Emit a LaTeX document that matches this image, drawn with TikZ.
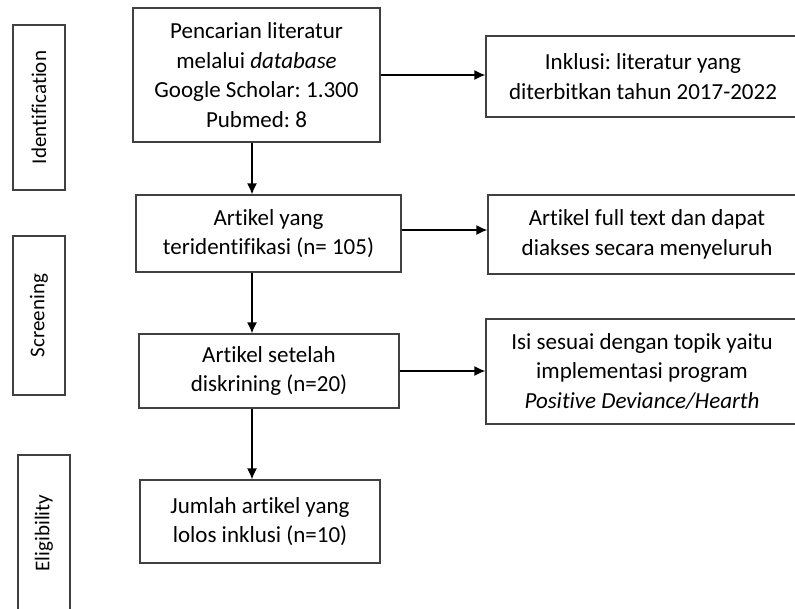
\documentclass[tikz,border=0pt]{standalone}
\usepackage{fontspec}
\setmainfont{Carlito}[Ligatures=NoCommon]
\usepackage{xcolor}
\usetikzlibrary{arrows.meta}
\frenchspacing

\begin{document}
\begin{tikzpicture}[x=1pt,y=-1pt]
			\tikzstyle{stage} = [draw=black!75, line width=1.1pt, inner sep=0pt, rotate=90, minimum height=52pt, font=\fontsize{21}{26}\selectfont]
			\tikzstyle{flow} = [draw=black!75, line width=1.1pt, inner sep=0pt, align=center, font=\fontsize{23}{29.5}\selectfont]
			\tikzset{edge/.style = {-{Latex[length=11pt,width=10pt]}, line width=1.6pt}}
			
			\useasboundingbox (0,0) rectangle (795,608);
			\clip (0,0) rectangle (795,608);
			\coordinate (col) at (252,0);
			
			\node[stage, minimum width=165pt](identification) at (39,107.5) {Identification};
			\node[stage, minimum width=159pt](screening) at (39,315.5) {Screening};
			\node[stage, minimum width=156pt](eligibility) at (44,533) {Eligibility};
			
			\node[flow, minimum width=247pt, minimum height=134pt](search) at (256.5,75) {Pencarian literatur\\melalui \textit{database}\\Google Scholar: 1.300\\Pubmed: 8};
			\node[flow, minimum width=265pt, minimum height=77pt](found) at (268.5,233.5) {Artikel yang\\teridentifikasi (n= 105)};
			\node[flow, minimum width=260pt, minimum height=74pt](screened) at (269,371) {Artikel setelah\\diskrining (n=20)};
			\node[flow, minimum width=240pt, minimum height=83pt](included) at (260,521.5) {Jumlah artikel yang\\lolos inklusi (n=10)};
			
			\node[flow, minimum width=314pt, minimum height=81pt](inclusion) at (643,76.5) {Inklusi: literatur yang\\diterbitkan tahun 2017-2022};
			\node[flow, minimum width=318pt, minimum height=79pt](fulltext) at (647,234.5) {Artikel full text dan dapat\\diakses secara menyeluruh};
			\node[flow, minimum width=312pt, minimum height=105pt](topic) at (642,371.5) {Isi sesuai dengan topik yaitu\\implementasi program\\\textit{Positive Deviance/Hearth}};
			
			\draw[edge](search.south -| col) to (found.north -| col);
			\draw[edge](found.south -| col) to (screened.north -| col);
			\draw[edge](screened.south -| col) to (included.north -| col);
			
			\draw[edge](search.east) to (search.east -| inclusion.west);
			\draw[edge]([yshift=3.5pt]found.east) to ([yshift=3.5pt]found.east -| fulltext.west);
			\draw[edge](screened.east) to (screened.east -| topic.west);
			
			\end{tikzpicture}
\end{document}
